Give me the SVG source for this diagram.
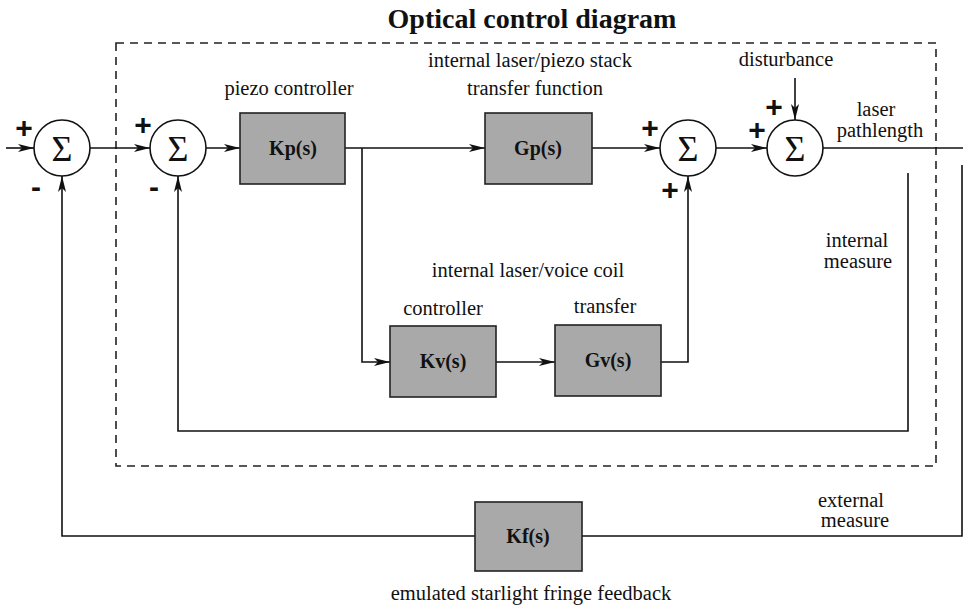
<svg xmlns="http://www.w3.org/2000/svg" width="963" height="615" viewBox="0 0 963 615">
<style>
.ln{fill:none;stroke:#111;stroke-width:1.6}
.box{fill:#a9a9a9;stroke:#222;stroke-width:1.6}
.sum{fill:#fff;stroke:#111;stroke-width:1.6}
.lbl{font-family:"Liberation Serif","Times New Roman",serif;font-size:20.5px;fill:#111;text-anchor:middle}
.bl{font-family:"Liberation Serif","Times New Roman",serif;font-size:20px;font-weight:bold;fill:#111;text-anchor:middle}
.sig{font-family:"Liberation Serif","Times New Roman",serif;font-size:36px;fill:#111;text-anchor:middle}
.sg{font-family:"Liberation Sans",Arial,sans-serif;font-size:30px;font-weight:bold;fill:#111;text-anchor:middle}
.title{font-family:"Liberation Serif","Times New Roman",serif;font-size:28px;font-weight:bold;fill:#111;text-anchor:middle}
</style>
<defs>
<marker id="ah" markerWidth="16" markerHeight="8" refX="16" refY="4" orient="auto" markerUnits="userSpaceOnUse">
<path d="M0,0 L16,4 L0,8 L4,4 Z" fill="#111"/>
</marker>
</defs>
<rect width="963" height="615" fill="#fff"/>
<text class="title" x="532" y="28">Optical control diagram</text>
<rect x="116" y="43" width="820" height="423" fill="none" stroke="#222" stroke-width="1.6" stroke-dasharray="8,6"/>

<g id="connectors">
<path class="ln" d="M6,148 H34" marker-end="url(#ah)"/>
<path class="ln" d="M90,148 H150" marker-end="url(#ah)"/>
<path class="ln" d="M206,148 H240" marker-end="url(#ah)"/>
<path class="ln" d="M345,148 H485" marker-end="url(#ah)"/>
<path class="ln" d="M362,148 V362 H390" marker-end="url(#ah)"/>
<path class="ln" d="M496,362 H555" marker-end="url(#ah)"/>
<path class="ln" d="M661,362 H688 V176" marker-end="url(#ah)"/>
<path class="ln" d="M592,148 H660" marker-end="url(#ah)"/>
<path class="ln" d="M716,148 H767" marker-end="url(#ah)"/>
<path class="ln" d="M795,78 V120" marker-end="url(#ah)"/>
<path class="ln" d="M823,148 H963"/>
<path class="ln" d="M908,173 V431 H178 V176" marker-end="url(#ah)"/>
<path class="ln" d="M962,165 V536 H582"/>
<path class="ln" d="M475,536 H62 V176" marker-end="url(#ah)"/>
</g>

<g id="sum1">
<circle class="sum" cx="62" cy="148" r="28"/>
<text class="sig" x="62" y="161">Σ</text>
<text class="sg" x="24" y="138">+</text>
<text class="sg" x="36" y="197">-</text>
</g>
<g id="sum2">
<circle class="sum" cx="178" cy="148" r="28"/>
<text class="sig" x="178" y="161">Σ</text>
<text class="sg" x="143" y="135">+</text>
<text class="sg" x="154" y="197">-</text>
</g>
<g id="kp">
<rect class="box" x="240" y="113" width="105" height="71"/>
<text class="bl" x="293" y="155">Kp(s)</text>
<text class="lbl" x="289" y="95">piezo controller</text>
</g>
<g id="gp">
<rect class="box" x="485" y="113" width="107" height="71"/>
<text class="bl" x="538" y="155">Gp(s)</text>
<text class="lbl" x="530" y="67">internal laser/piezo stack</text>
<text class="lbl" x="535" y="95">transfer function</text>
</g>
<g id="sum3">
<circle class="sum" cx="688" cy="148" r="28"/>
<text class="sig" x="688" y="161">Σ</text>
<text class="sg" x="650" y="138">+</text>
<text class="sg" x="670" y="200">+</text>
</g>
<g id="sum4">
<circle class="sum" cx="795" cy="148" r="28"/>
<text class="sig" x="795" y="161">Σ</text>
<text class="sg" x="757" y="140">+</text>
<text class="sg" x="774" y="117">+</text>
<text class="lbl" x="786" y="66">disturbance</text>
<text class="lbl" x="876" y="116">laser</text>
<text class="lbl" x="880" y="137">pathlength</text>
</g>
<g id="kv">
<rect class="box" x="390" y="326" width="106" height="71"/>
<text class="bl" x="443" y="368">Kv(s)</text>
<text class="lbl" x="443" y="315">controller</text>
<text class="lbl" x="528" y="277">internal laser/voice coil</text>
</g>
<g id="gv">
<rect class="box" x="555" y="325" width="106" height="71"/>
<text class="bl" x="608" y="367">Gv(s)</text>
<text class="lbl" x="605" y="313">transfer</text>
</g>
<g id="measures">
<text class="lbl" x="857" y="247">internal</text>
<text class="lbl" x="858" y="268">measure</text>
<text class="lbl" x="851" y="507">external</text>
<text class="lbl" x="855" y="527">measure</text>
</g>
<g id="kf">
<rect class="box" x="475" y="502" width="107" height="69"/>
<text class="bl" x="528" y="543">Kf(s)</text>
<text class="lbl" x="531" y="600">emulated starlight fringe feedback</text>
</g>
</svg>
